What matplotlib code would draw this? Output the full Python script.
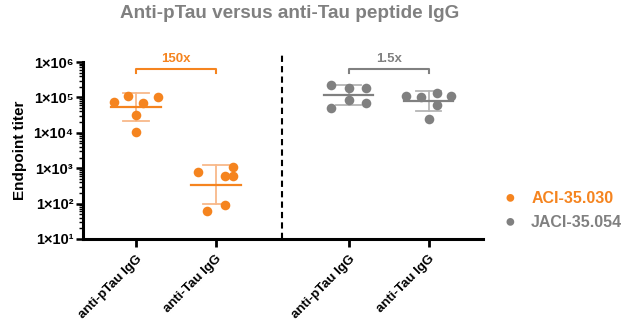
import numpy as np
import matplotlib
matplotlib.use("Agg")
import matplotlib.pyplot as plt
from matplotlib.ticker import FuncFormatter, LogLocator, NullFormatter

plt.rcParams['font.family'] = ['Liberation Sans', 'DejaVu Sans']
plt.rcParams['font.weight'] = 'bold'

ORANGE = '#F5841F'
ORANGE_LIGHT = '#F8B98A'
GRAY = '#808080'
GRAY_LIGHT = '#B5B5B5'

# categories
categories = ['anti-pTau IgG', 'anti-Tau IgG', 'anti-pTau IgG', 'anti-Tau IgG']
groups = ['ACI-35.030', 'ACI-35.030', 'JACI-35.054', 'JACI-35.054']
positions = [0, 1, 2.66, 3.66]

# individual titers per category
aci_ptau = [76000, 110000, 68000, 105000, 32000, 10700]
aci_tau = [800, 600, 1100, 620, 89, 62]
jaci_ptau = [220000, 180000, 187000, 85000, 71000, 49000]
jaci_tau = [112000, 105000, 130000, 112000, 63000, 25000]
# horizontal jitter of the dots
jitter = [
    [-0.275, -0.1, 0.09, 0.28, 0.0, 0.0],
    [-0.22, 0.12, 0.21, 0.21, 0.12, -0.11],
    [-0.22, 0.0, 0.22, 0.0, 0.22, -0.22],
    [-0.28, -0.1, 0.1, 0.28, 0.1, 0.0],
]

# center line and error bar limits
centers = [53000, 345, 117000, 79000]
err_low = [21000, 98, 61000, 42000]
err_high = [135000, 1230, 230000, 155000]

fold_labels = ['150x', '1.5x']

values = [aci_ptau, aci_tau, jaci_ptau, jaci_tau]
colors = [ORANGE, ORANGE, GRAY, GRAY]
light = [ORANGE_LIGHT, ORANGE_LIGHT, GRAY_LIGHT, GRAY_LIGHT]

SUP = str.maketrans('0123456789', '\u2070\u00b9\u00b2\u00b3\u2074\u2075\u2076\u2077\u2078\u2079')

fig = plt.figure(figsize=(6.4, 3.33), dpi=100)
ax = fig.add_axes([0.1297, 0.2823, 0.625, 0.5315])

for i in range(4):
    x0 = positions[i]
    # error bar
    ax.plot([x0, x0], [err_low[i], err_high[i]], color=light[i], lw=1.3, zorder=1)
    for v in (err_low[i], err_high[i]):
        ax.plot([x0 - 0.16, x0 + 0.16], [v, v], color=light[i], lw=1.3, zorder=1)
    ax.plot([x0 - 0.31, x0 + 0.31], [centers[i], centers[i]], color=colors[i], lw=1.6, zorder=1)
    ax.scatter(np.array(jitter[i]) + x0, values[i], s=48, color=colors[i], zorder=3, linewidths=0)

ax.set_yscale('log')
ax.set_ylim(10, 1e6)
ax.set_xlim(-0.66, 4.34)

ax.yaxis.set_major_locator(LogLocator(base=10, numticks=10))
ax.yaxis.set_minor_locator(LogLocator(base=10, subs=np.arange(2, 10), numticks=10))
ax.yaxis.set_minor_formatter(NullFormatter())
ax.yaxis.set_major_formatter(FuncFormatter(
    lambda v, p: '1\u00d710' + str(round(np.log10(v))).translate(SUP)))

ax.set_xticks(positions)
ax.set_xticklabels(categories, rotation=45, ha='right', rotation_mode='anchor', fontsize=9.5, fontweight='bold')
ax.tick_params(axis='y', which='major', labelsize=10.5, length=5, width=1.8, pad=2)
ax.tick_params(axis='y', which='minor', length=3, width=1)
ax.tick_params(axis='x', length=6, width=2, pad=4)

for s in ['top', 'right']:
    ax.spines[s].set_visible(False)
for s in ['left', 'bottom']:
    ax.spines[s].set_linewidth(2.2)

ax.set_ylabel('Endpoint titer', fontsize=11, fontweight='bold')
ax.yaxis.set_label_coords(-0.14, 0.5)

# dashed separator
ax.axvline(1.83, ymin=0, ymax=1.04, color='black', ls=(0, (3, 2)), lw=1.5, clip_on=False)

# fold-change brackets
brackets = [(positions[0], positions[1], ORANGE, fold_labels[0]),
            (positions[2], positions[3], GRAY, fold_labels[1])]
for xa, xb, c, lab in brackets:
    ax.plot([xa, xa, xb, xb], [4.9e5, 6.4e5, 6.4e5, 4.9e5], color=c, lw=1.5, clip_on=False)
    ax.text((xa + xb) / 2, 8.5e5, lab, color=c, fontsize=9.5, fontweight='bold', ha='center', va='bottom')

fig.text(0.453, 0.958, 'Anti-pTau versus anti-Tau peptide IgG', color=GRAY, fontsize=13.6,
         fontweight='bold', ha='center', va='center')

# legend
fig.text(0.797, 0.405, '\u25CF', color=ORANGE, fontsize=13, ha='center', va='center')
fig.text(0.83, 0.405, 'ACI-35.030', color=ORANGE, fontsize=11.5, fontweight='bold', va='center')
fig.text(0.797, 0.333, '\u25CF', color=GRAY, fontsize=13, ha='center', va='center')
fig.text(0.83, 0.333, 'JACI-35.054', color=GRAY, fontsize=11.5, fontweight='bold', va='center')

fig.savefig('out.png', dpi=100)
